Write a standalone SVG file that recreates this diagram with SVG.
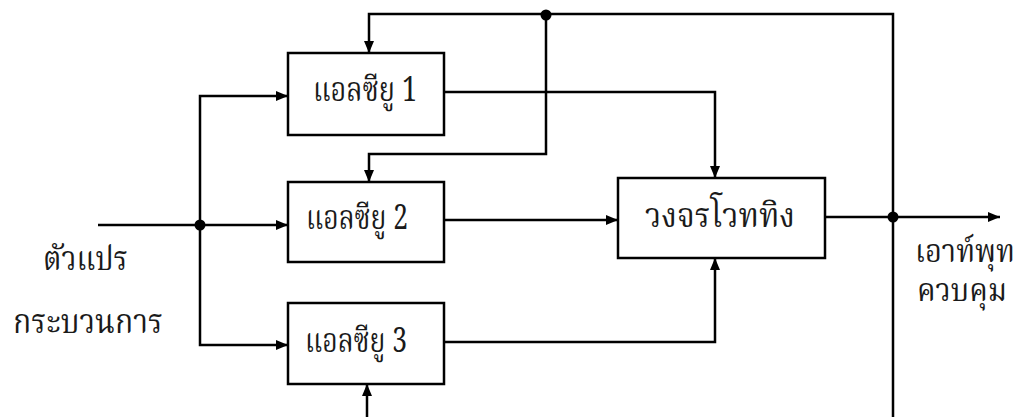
<svg xmlns="http://www.w3.org/2000/svg" width="1022" height="417" viewBox="0 0 1022 417">
<style>
.box{fill:#fff;stroke:#000;stroke-width:2.5}
.ln{fill:none;stroke:#000;stroke-width:2.5}
.t{font-family:"Noto Serif Thai","Noto Sans Thai","Liberation Serif","DejaVu Serif",serif;font-size:34px;fill:#1a1a1a}
.r{font-size:32px}
</style>
<defs>
<marker id="ah" viewBox="0 0 12 10" refX="12" refY="5" markerWidth="12" markerHeight="10" markerUnits="userSpaceOnUse" orient="auto">
<path d="M0,0 L12,5 L0,10 Z" fill="#000"/>
</marker>
</defs>
<g id="connectors">
<path class="ln" d="M98,225 H288" marker-end="url(#ah)"/>
<path class="ln" d="M200,225 V96 H288" marker-end="url(#ah)"/>
<path class="ln" d="M200,225 V345 H288" marker-end="url(#ah)"/>
<path class="ln" d="M444,92 H715 V178" marker-end="url(#ah)"/>
<path class="ln" d="M444,220 H618" marker-end="url(#ah)"/>
<path class="ln" d="M444,342 H715 V258" marker-end="url(#ah)"/>
<path class="ln" d="M825,217 H1000" marker-end="url(#ah)"/>
<path class="ln" d="M893,417 V14 H369 V53" marker-end="url(#ah)"/>
<path class="ln" d="M546,14 V154 H369 V182" marker-end="url(#ah)"/>
<path class="ln" d="M367,417 V384" marker-end="url(#ah)"/>
<circle cx="200" cy="225" r="5.5" fill="#000"/>
<circle cx="546" cy="15" r="5.5" fill="#000"/>
<circle cx="893" cy="217" r="5.5" fill="#000"/>
</g>
<g id="alu1">
<rect class="box" x="288" y="53" width="156" height="82"/>
<text class="t" x="313" y="101" textLength="104" lengthAdjust="spacingAndGlyphs">แอลซียู 1</text>
</g>
<g id="alu2">
<rect class="box" x="288" y="182" width="156" height="80"/>
<text class="t" x="306" y="229" textLength="102" lengthAdjust="spacingAndGlyphs">แอลซียู 2</text>
</g>
<g id="alu3">
<rect class="box" x="288" y="303" width="156" height="81"/>
<text class="t" x="305" y="352" textLength="102" lengthAdjust="spacingAndGlyphs">แอลซียู 3</text>
</g>
<g id="voting">
<rect class="box" x="618" y="178" width="207" height="80"/>
<text class="t" x="645" y="227" textLength="150" lengthAdjust="spacingAndGlyphs">วงจรโวททิง</text>
</g>
<g id="labels">
<text class="t" x="43" y="270" textLength="85" lengthAdjust="spacingAndGlyphs">ตัวแปร</text>
<text class="t" x="13" y="333" textLength="150" lengthAdjust="spacingAndGlyphs">กระบวนการ</text>
<text class="t r" x="915" y="262" textLength="100" lengthAdjust="spacingAndGlyphs">เอาท์พุท</text>
<text class="t r" x="917" y="301" textLength="90" lengthAdjust="spacingAndGlyphs">ควบคุม</text>
</g>
</svg>
